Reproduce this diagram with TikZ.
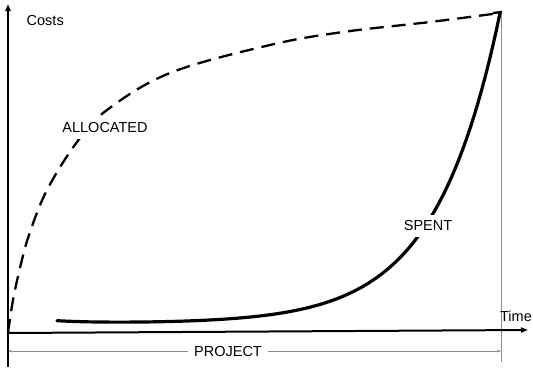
\documentclass[tikz,border=0pt]{standalone}
\usepackage{fontspec}
\setmainfont{Liberation Sans}
\usetikzlibrary{arrows.meta}
\begin{document}
\begin{tikzpicture}[x=1pt,y=-1pt,
  axis/.style={line width=2pt,-{Triangle[length=7pt,width=5pt]}},
  guide/.style={line width=1pt,draw=black!45},
  lbl/.style={font=\fontsize{14.5}{16}\selectfont,inner sep=1.5pt},
  wlbl/.style={lbl,fill=white,inner xsep=6pt,inner ysep=6pt},
  allocated/.style={line width=2.3pt,dash pattern=on 14pt off 8pt},
  spent/.style={line width=3.2pt,line cap=round}]
\useasboundingbox (0,0) rectangle (533,367);
\coordinate (O) at (8,333);
\coordinate (Ytop) at (8,4);
\coordinate (Ybot) at (8,367);
\coordinate (Xend) at (528,330);
\coordinate (Top) at (500,13);
\coordinate (Gtop) at (501,13);
\coordinate (Gbot) at (501,362);
\coordinate (Pl) at (8,351);
\coordinate (Pr) at (501,351);
% gray guide line and project span
\draw[guide] (Gtop) -- (Gbot);
\draw[guide,{Stealth[length=4pt,width=3pt]}-{Stealth[length=4pt,width=3pt]}] (Pl) -- (Pr);
\node[wlbl,inner ysep=3pt] (project) at (228,352) {PROJECT};
% axes
\draw[line width=2pt] (O) -- (Ybot);
\draw[axis] (O) -- (Ytop);
\draw[axis] (O) -- (Xend);
\node[lbl,anchor=west] (costs) at (25,21) {Costs};
\node[lbl] (time) at (516,316) {Time};
% allocated curve
\draw[allocated] plot[smooth,tension=0.6] coordinates {
 (8,333) (13,300) (20,268) (29,235) (47,190) (77,142) (107,110)
 (170,73) (270,45) (343,32) (430,22) (500,13)};
\node[wlbl] (alloc) at (105,128) {ALLOCATED};
% spent curve
\draw[spent] plot[domain=57:500,samples=120]
  (\x,{323.5-0.1335*exp(0.0155*\x)-2.5*exp(-(\x-57)/40)});
\node[wlbl] (spentl) at (428,226) {SPENT};
\draw[line width=2.3pt] (493,13) -- (502,12);
\end{tikzpicture}
\end{document}
